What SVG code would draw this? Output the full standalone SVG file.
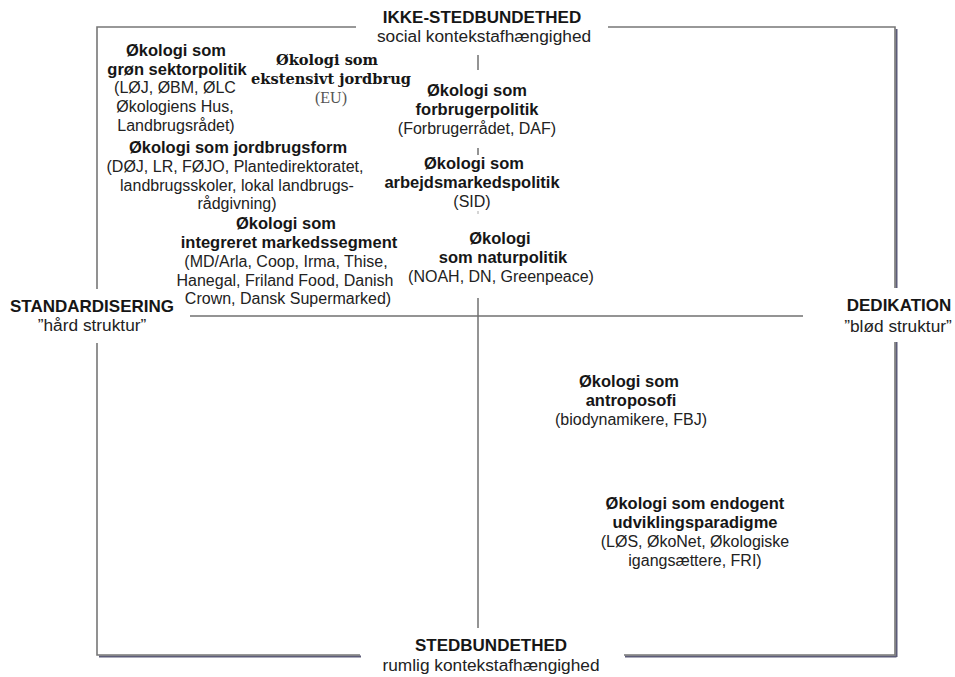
<svg xmlns="http://www.w3.org/2000/svg" width="955" height="677" viewBox="0 0 955 677">
<style>
text{font-family:"Liberation Sans",Arial,sans-serif;text-anchor:middle;fill:#161616}
.b{font-weight:bold;font-size:16.5px}
.r{font-size:16px;fill:#222}
.h{font-weight:bold;font-size:17px}
.hr{font-size:17.3px;fill:#222}
.sb{font-family:"DejaVu Serif","Liberation Serif",serif;font-weight:bold;font-size:14.6px}
.sr{font-family:"Liberation Serif",serif;font-size:16px;fill:#555}
.ax{stroke:#707070;stroke-width:1.5;fill:none}
.fr{stroke:#777;stroke-width:1.6;fill:none}
.sh{stroke:#5c5c78;stroke-width:2;fill:none}
</style>
<rect width="955" height="677" fill="#fff"/>
<g id="connectors">
<path class="sh" d="M896.5,29 V288 M896.5,342 V657 M896.5,656.5 H625"/>
<path class="sh" d="M99,656.5 H361"/>
<path class="fr" d="M356,27 H97 V289 M97,343 V655 H360"/>
<path class="fr" d="M608,27 H895 V288 M895,342 V655 H624"/>
<path class="ax" d="M190,316 H803"/>
<path class="ax" d="M478,298 V628"/>
<path class="ax" d="M478,55 V70 M478,148 V155"/>
<path d="M478,211 V214" stroke="#aaa" stroke-width="1"/>
</g>
<g id="ikke-stedbundethed"><text class="h" x="482" y="23">IKKE-STEDBUNDETHED</text><text class="hr" x="484" y="42">social kontekstafhængighed</text></g>
<g id="stedbundethed"><text class="h" x="491" y="651">STEDBUNDETHED</text><text class="hr" x="491" y="671">rumlig kontekstafhængighed</text></g>
<g id="standardisering"><text class="h" x="92" y="312">STANDARDISERING</text><text class="hr" x="92" y="331">”hård struktur”</text></g>
<g id="dedikation"><text class="h" x="899" y="311">DEDIKATION</text><text class="hr" x="898" y="332">”blød struktur”</text></g>
<g id="groen-sektorpolitik"><text class="b" x="176" y="56">Økologi som</text><text class="b" x="177" y="75">grøn sektorpolitik</text><text class="r" x="175" y="93">(LØJ, ØBM, ØLC</text><text class="r" x="175" y="112">Økologiens Hus,</text><text class="r" x="176" y="131">Landbrugsrådet)</text></g>
<g id="ekstensivt-jordbrug"><text class="sb" x="327" y="65">Økologi som</text><text class="sb" x="331" y="84">ekstensivt jordbrug</text><text class="sr" x="331" y="103">(EU)</text></g>
<g id="forbrugerpolitik"><text class="b" x="477" y="96">Økologi som</text><text class="b" x="477" y="115">forbrugerpolitik</text><text class="r" x="477" y="134">(Forbrugerrådet, DAF)</text></g>
<g id="arbejdsmarkedspolitik"><text class="b" x="474" y="169">Økologi som</text><text class="b" x="472" y="188">arbejdsmarkedspolitik</text><text class="r" x="472" y="207">(SID)</text></g>
<g id="jordbrugsform"><text class="b" x="238" y="153">Økologi som jordbrugsform</text><text class="r" x="235" y="172">(DØJ, LR, FØJO, Plantedirektoratet,</text><text class="r" x="237" y="191">landbrugsskoler, lokal landbrugs-</text><text class="r" x="237" y="209">rådgivning)</text></g>
<g id="markedssegment"><text class="b" x="286" y="229">Økologi som</text><text class="b" x="289" y="248">integreret markedssegment</text><text class="r" x="286" y="267">(MD/Arla, Coop, Irma, Thise,</text><text class="r" x="285" y="286">Hanegal, Friland Food, Danish</text><text class="r" x="288" y="304">Crown, Dansk Supermarked)</text></g>
<g id="naturpolitik"><text class="b" x="500" y="244">Økologi</text><text class="b" x="503" y="263">som naturpolitik</text><text class="r" x="501" y="282">(NOAH, DN, Greenpeace)</text></g>
<g id="antroposofi"><text class="b" x="629" y="387">Økologi som</text><text class="b" x="631" y="406">antroposofi</text><text class="r" x="631" y="425">(biodynamikere, FBJ)</text></g>
<g id="endogent"><text class="b" x="695" y="509">Økologi som endogent</text><text class="b" x="695" y="528">udviklingsparadigme</text><text class="r" x="695" y="547">(LØS, ØkoNet, Økologiske</text><text class="r" x="695" y="566">igangsættere, FRI)</text></g>
</svg>
